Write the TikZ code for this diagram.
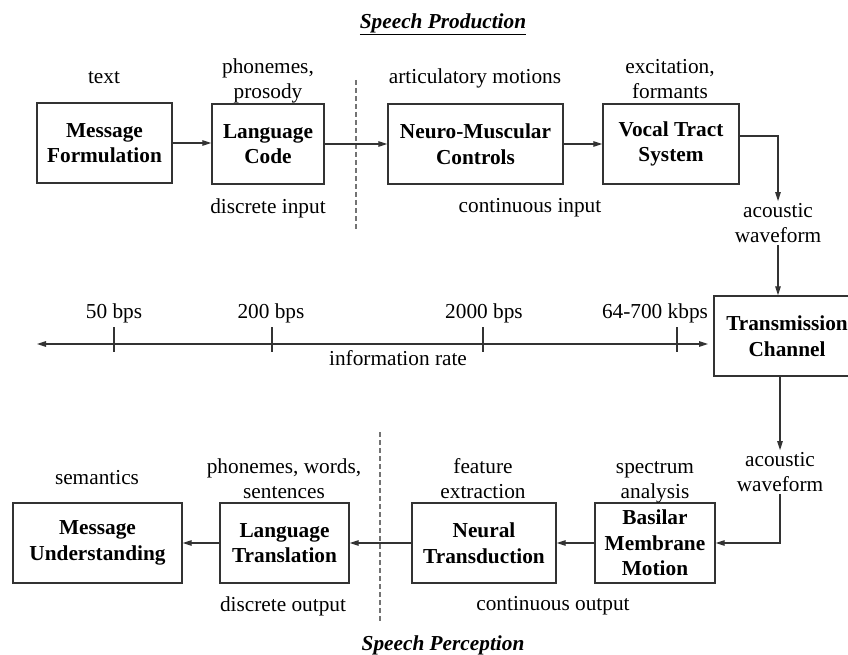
\documentclass[tikz,border=0pt]{standalone}
\usepackage{fontspec}
\setmainfont{Liberation Serif}
\usetikzlibrary{arrows.meta}
\begin{document}
\begin{tikzpicture}[x=1pt,y=-1pt,
  every node/.style={font=\fontsize{21.3}{25}\selectfont, align=center, inner sep=0pt, text=black},
  block/.style={draw=black!80, line width=1.3pt, minimum height=80pt, font=\fontsize{21.3}{25.5}\selectfont\bfseries},
  flow/.style={draw=black!80, line width=1.2pt, -{Triangle[length=9pt,width=5.5pt]}},
  divider/.style={draw=black!55, line width=1.3pt, dash pattern=on 5pt off 3pt},
  heading/.style={font=\fontsize{21.3}{25}\selectfont\bfseries\itshape}]
\useasboundingbox (0,0) rectangle (848,655);
\clip (0,0) rectangle (848,655);

% ---------------- speech production ----------------
\node[heading] (tprod) at (443,24) {\underline{Speech Production}};

\node[block, minimum width=135pt] (mf) at (104.5,143) {Message\\Formulation};
\node[block, minimum width=112pt] (lc) at (268,144) {Language\\Code};
\node[block, minimum width=175pt] (nm) at (475.5,144) {Neuro-Muscular\\Controls};
\node[block, minimum width=136pt] (vt) at (671,144) {Vocal Tract\\System};

\node (ltext) at (104,78) {text};
\node (lphon) at (268,81) {phonemes,\\prosody};
\node (lart) at (475,78) {articulatory motions};
\node (lexc) at (670,79) {excitation,\\formants};
\node (ldin) at (268,208) {discrete input};
\node (lcin) at (530,208) {continuous input};

\coordinate (dtop1) at (356,80);
\coordinate (dbot1) at (356,230);
\draw[divider] (dtop1) -- (dbot1);

\draw[flow] (mf.east) -- (mf.east -| lc.west);
\draw[flow] (lc) -- (nm);
\draw[flow] (nm) -- (vt);

\node (aw1) at (778,223) {acoustic\\waveform};
\draw[flow] ([yshift=8pt]vt.east) -| ([yshift=2pt]aw1.north);

% ---------------- channel and rate axis ----------------
\node[block, minimum width=146pt] (tc) at (787,336) {Transmission\\Channel};
\draw[flow] ([yshift=-2pt]aw1.south) -- (aw1.south |- tc.north);

\coordinate (axl) at (37,344);
\coordinate (axr) at (708,344);
\draw[draw=black!80, line width=1.2pt, {Triangle[length=9pt,width=5.5pt]}-{Triangle[length=9pt,width=5.5pt]}] (axl) -- (axr);
\foreach \x/\nm in {114/r1, 272/r2, 483/r3, 677/r4} {
  \coordinate (\nm t) at (\x,327);
  \coordinate (\nm b) at (\x,352);
  \draw[draw=black!80, line width=1.2pt] (\nm t) -- (\nm b);
}
\node (r1) at (114,313) {50 bps};
\node (r2) at (271,313) {200 bps};
\node (r3) at (484,313) {2000 bps};
\node (r4) at (655,313) {64-700 kbps};
\node (lrate) at (398,358) {information rate};

% ---------------- speech perception ----------------
\node (aw2) at (780,472) {acoustic\\waveform};
\draw[flow] (tc.south -| aw2) -- ([yshift=2pt]aw2.north);

\node[block, minimum width=169pt] (mu) at (97.5,543) {Message\\Understanding};
\node[block, minimum width=129pt] (lt) at (284.5,543) {Language\\Translation};
\node[block, minimum width=144pt] (nt) at (484,543) {Neural\\Transduction};
\node[block, minimum width=120pt] (bm) at (655,543) {Basilar\\Membrane\\Motion};

\draw[flow] ([yshift=-2pt]aw2.south) |- (bm.east);
\draw[flow] (bm) -- (nt);
\draw[flow] (nt) -- (lt);
\draw[flow] (lt) -- (mu);

\node (lsem) at (97,478) {semantics};
\node (lpws) at (284,479) {phonemes, words,\\sentences};
\node (lfeat) at (483,479) {feature\\extraction};
\node (lspec) at (655,482) {spectrum\\analysis};
\node (ldout) at (283,606) {discrete output};
\node (lcout) at (553,606) {continuous output};

\coordinate (dtop2) at (380,432);
\coordinate (dbot2) at (380,623);
\draw[divider] (dtop2) -- (dbot2);

\node[heading] (tperc) at (443,645) {Speech Perception};
\end{tikzpicture}
\end{document}
